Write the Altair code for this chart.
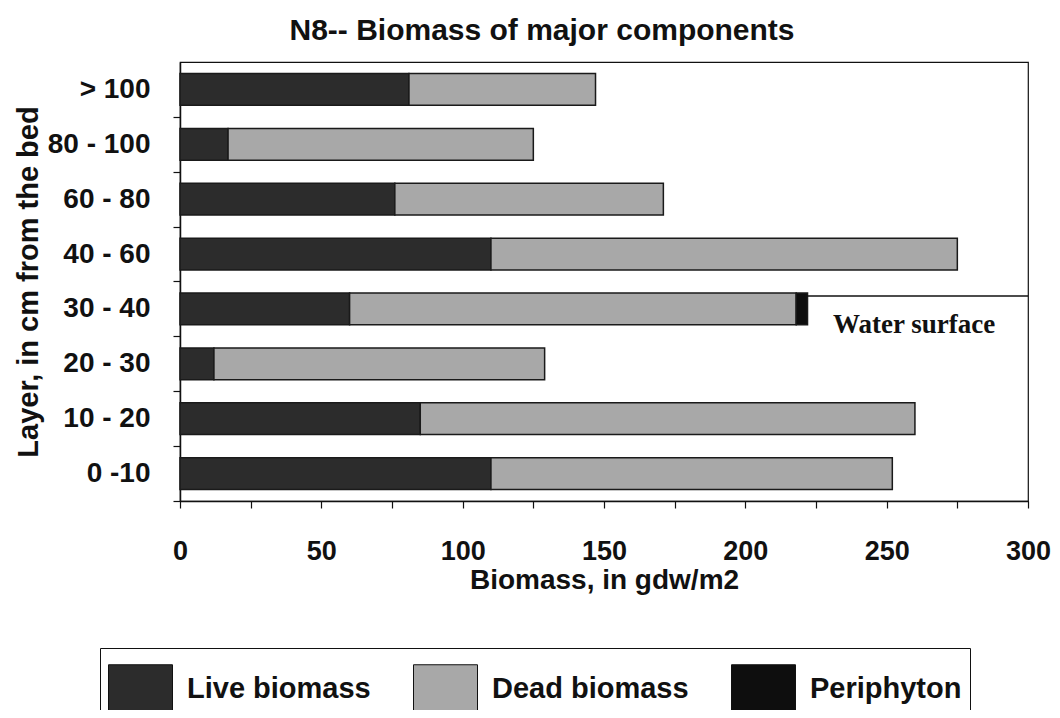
import altair as alt
import pandas as pd

layers = ["> 100", "80 - 100", "60 - 80", "40 - 60", "30 - 40", "20 - 30", "10 - 20", "0 -10"]
live = [81, 17, 76, 110, 60, 12, 85, 110]
dead = [66, 108, 95, 165, 158, 117, 175, 142]
periphyton = [0, 0, 0, 0, 4, 0, 0, 0]
components = ["Live biomass", "Dead biomass", "Periphyton"]
colors = ["#2c2c2c", "#a8a8a8", "#0e0e0e"]
x_ticks = [0, 25, 50, 75, 100, 125, 150, 175, 200, 225, 250, 275, 300]

water_layer = ["30 - 40"]
water_start = [221]
water_end = [300]
water_label = ["Water surface"]
water_label_x = [231]

rows = []
for i, lay in enumerate(layers):
    for k, (comp, vals) in enumerate(zip(components, [live, dead, periphyton])):
        if vals[i] > 0:
            rows.append({"layer": lay, "component": comp, "value": vals[i], "order": k})
df = pd.DataFrame(rows)

wdf = pd.DataFrame({"layer": water_layer, "x": water_start, "x2": water_end,
                    "label": water_label, "tx": water_label_x})

FONT = "Liberation Sans"

yscale = alt.Scale(domain=layers, paddingInner=0.42, paddingOuter=0.21)

bars = alt.Chart(df).mark_bar(stroke="#1a1a1a", strokeWidth=1.5).encode(
    x=alt.X("value:Q", stack="zero",
            scale=alt.Scale(domain=[0, 300], nice=False),
            axis=alt.Axis(values=x_ticks,
                          labelExpr="datum.value % 50 == 0 ? datum.label : ''",
                          title="Biomass, in gdw/m2", grid=False, labelFlush=False,
                          tickSize=7, labelPadding=30, titlePadding=2,
                          labelFontSize=27, titleFontSize=28)),
    y=alt.Y("layer:N", sort=layers, scale=yscale,
            axis=alt.Axis(title="Layer, in cm from the bed",
                          tickSize=7, tickOffset=27.4, labelOffset=-27.4,
                          labelPadding=23, titlePadding=4,
                          labelFontSize=28, titleFontSize=29)),
    color=alt.Color("component:N",
                    scale=alt.Scale(domain=components, range=colors),
                    legend=alt.Legend(title=None, orient="none", legendX=-80, legendY=586,
                                      direction="horizontal",
                                      symbolType="M-1,-0.75H1V0.75H-1Z",
                                      symbolSize=4096, symbolStrokeColor="#111111",
                                      symbolStrokeWidth=1, symbolOpacity=1,
                                      labelFontSize=29, labelFont=FONT, labelFontWeight="bold",
                                      labelColor="#111111", labelOffset=14, columnPadding=40,
                                      padding=8, strokeColor="#111111", labelLimit=400)),
    order=alt.Order("order:Q"),
)

rule = alt.Chart(wdf).mark_rule(color="#111111", strokeWidth=1.5, yOffset=-13).encode(
    x="x:Q", x2="x2:Q", y=alt.Y("layer:N", sort=layers, scale=yscale)
)

text = alt.Chart(wdf).mark_text(align="left", baseline="middle", dy=16,
                                 font="Liberation Serif", fontWeight="bold",
                                 fontSize=27, color="#111111").encode(
    x="tx:Q", y=alt.Y("layer:N", sort=layers, scale=yscale), text="label:N"
)

chart = alt.layer(bars, rule, text).properties(
    width=848, height=439,
    background="white",
    autosize=alt.AutoSizeParams(type="none"),
    padding={"left": 172, "top": 54, "right": 24, "bottom": 209},
    title=alt.Title("N8-- Biomass of major components", fontSize=30, font=FONT,
                    fontWeight="bold", color="#111111", anchor="middle", dx=-62, offset=16),
).configure_view(
    stroke="#111111", strokeWidth=1.2
).configure_axis(
    labelFont=FONT, labelFontWeight="bold", labelColor="#111111",
    titleFont=FONT, titleFontWeight="bold", titleColor="#111111",
    domainColor="#111111", tickColor="#111111", domainWidth=1.5, tickWidth=1.2,
)

chart.save("out.html", embed_options={"renderer": "svg", "actions": False})
